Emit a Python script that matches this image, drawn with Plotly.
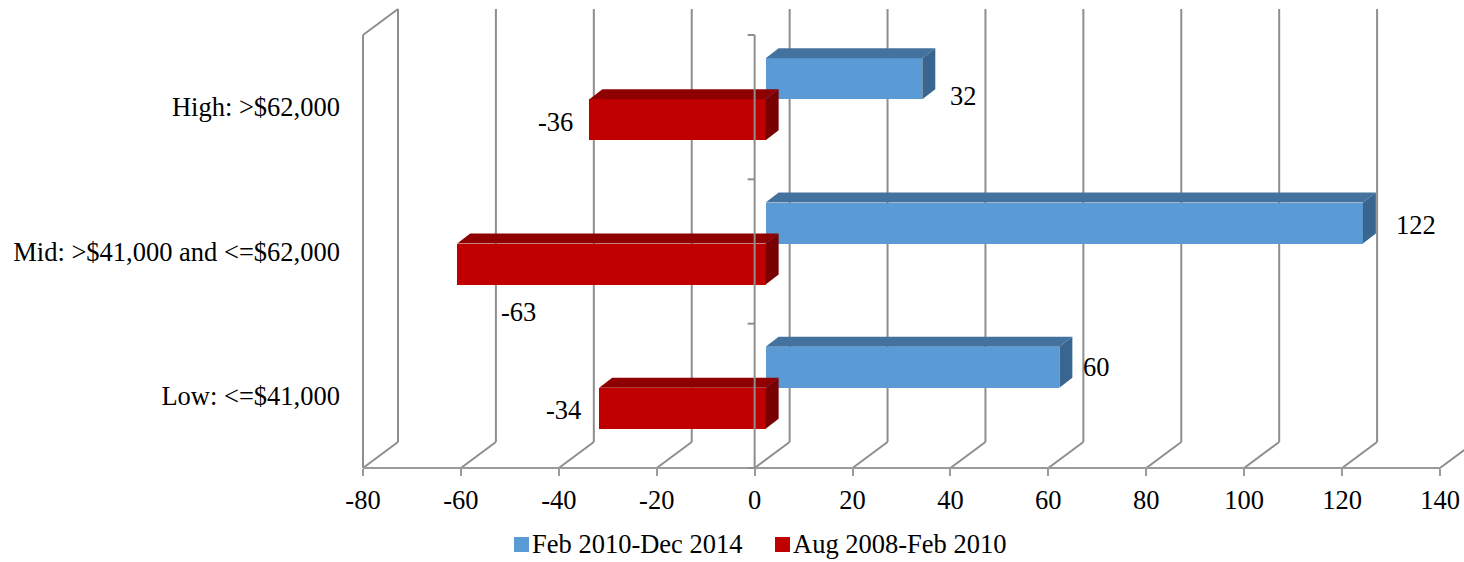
import plotly.graph_objects as go

# ---- data -----------------------------------------------------------------
categories = ["Low: <=$41,000", "Mid: >$41,000 and <=$62,000", "High: >$62,000"]
series_names = ["Feb 2010-Dec 2014", "Aug 2008-Feb 2010"]
recovery = [60, 122, 32]       # Feb 2010-Dec 2014
recession = [-34, -63, -36]    # Aug 2008-Feb 2010
x_tickvals = [-80, -60, -40, -20, 0, 20, 40, 60, 80, 100, 120, 140]
x_ticktext = ["-80", "-60", "-40", "-20", "0", "20", "40", "60", "80", "100", "120", "140"]

# ---- geometry of the pseudo-3D box (pixel sizes turned into axis units) ----
W, H = 1464, 562
PX_X = 1077 / 220.0          # pixels per x unit on the front plane
PX_Y = 433 / 3.0             # pixels per category band
ML, MR, MT, MB = 355, 0, 8, 90
X_RANGE = [-80 - 8 / PX_X, -80 + (W - 363) / PX_X]
Y_RANGE = [-4 / PX_Y, 3 + 27 / PX_Y]
PLOT_H = H - MT - MB

BACK_DX = 35 / PX_X          # depth of the walls
BACK_DY = 26 / PX_Y
BAR_DX = 11 / PX_X           # bars sit a little behind the front plane
BAR_LIFT = 8 / PX_Y
BAR_T = 41 / PX_Y            # bar thickness
FACE_DX = 13 / PX_X          # bar depth
FACE_DY = 10 / PX_Y

BLUE, BLUE_TOP, BLUE_SIDE = "#5B9BD5", "#44729F", "#386690"
RED, RED_TOP, RED_SIDE = "#C00000", "#8F0000", "#790000"
GRID = "#8E8E8E"
FONT = "Liberation Serif, Times New Roman, serif"
FS = 26.5

centers = [i + 0.5 for i in range(len(categories))]
x_min, x_max = x_tickvals[0], x_tickvals[-1]
n_cat = len(categories)

fig = go.Figure()
shapes = []


def line(x0, y0, x1, y1, layer="below", width=2, color=GRID):
    shapes.append(dict(type="line", xref="x", yref="y", x0=x0, y0=y0, x1=x1, y1=y1,
                       line=dict(color=color, width=width), layer=layer))


def poly(pts, color, layer="above"):
    path = "M " + " L ".join(f"{px},{py}" for px, py in pts) + " Z"
    shapes.append(dict(type="path", xref="x", yref="y", path=path,
                       fillcolor=color, line=dict(width=0), layer=layer))


# back wall gridlines and floor diagonals
for v in x_tickvals:
    line(v + BACK_DX, BACK_DY, v + BACK_DX, n_cat + BACK_DY)
    line(v, 0, v + BACK_DX, BACK_DY)
# left wall
line(x_min, 0, x_min, n_cat)
line(x_min, n_cat, x_min + BACK_DX, n_cat + BACK_DY)
# front value axis line
line(x_min, 0, x_max, 0, color="#9A9A9A")

# ---- bars: front faces as bar traces ---------------------------------------
blue_y = [c + BAR_LIFT + BAR_T / 2 for c in centers]
red_y = [c + BAR_LIFT - BAR_T / 2 for c in centers]

fig.add_trace(go.Bar(orientation="h", y=blue_y, x=recovery, base=BAR_DX, width=BAR_T,
                     marker=dict(color=BLUE, line=dict(width=0)), name=series_names[0],
                     showlegend=False))
fig.add_trace(go.Bar(orientation="h", y=red_y, x=recession, base=BAR_DX, width=BAR_T,
                     marker=dict(color=RED, line=dict(width=0)), name=series_names[1],
                     showlegend=False))


def box_faces(values, ys, top_col, side_col):
    for v, yc in zip(values, ys):
        xa, xb = sorted([BAR_DX, BAR_DX + v])
        yb, yt = yc - BAR_T / 2, yc + BAR_T / 2
        poly([(xa, yt), (xb, yt), (xb + FACE_DX, yt + FACE_DY), (xa + FACE_DX, yt + FACE_DY)], top_col)
        poly([(xb, yb), (xb, yt), (xb + FACE_DX, yt + FACE_DY), (xb + FACE_DX, yb + FACE_DY)], side_col)


box_faces(recovery, blue_y, BLUE_TOP, BLUE_SIDE)
box_faces(recession, red_y, RED_TOP, RED_SIDE)

# category axis at zero, drawn over the bars
line(0, 0, 0, n_cat, layer="above")
for k in range(n_cat + 1):
    line(-7 / PX_X, k, 0, k, layer="above")

# ---- data labels -------------------------------------------------------------
label_shift_blue = [(37, 0), (53, -2), (41, -17)]
label_shift_red = [(-36, -2), (61, -48), (-34, -2)]
annotations = []
for vals, ys, shifts in ((recovery, blue_y, label_shift_blue), (recession, red_y, label_shift_red)):
    for v, yc, (dx, dy) in zip(vals, ys, shifts):
        annotations.append(dict(x=BAR_DX + v, y=yc, xref="x", yref="y", text=str(v),
                                showarrow=False, xanchor="center", yanchor="middle",
                                xshift=dx, yshift=dy,
                                font=dict(family=FONT, size=FS, color="#000000")))

# ---- legend along the bottom edge ------------------------------------------------
def px_to_paper_x(px):
    return (px - ML) / (W - ML - MR)


def px_to_paper_y(py):
    return (H - MB - py) / PLOT_H


LEG_MID = 544
legend_items = [(series_names[0], BLUE, 514), (series_names[1], RED, 775)]
for name, col, left in legend_items:
    shapes.append(dict(type="rect", xref="paper", yref="paper",
                       x0=px_to_paper_x(left), x1=px_to_paper_x(left + 15),
                       y0=px_to_paper_y(LEG_MID + 8), y1=px_to_paper_y(LEG_MID - 7),
                       fillcolor=col, line=dict(width=0), layer="above"))
    annotations.append(dict(x=px_to_paper_x(left + 17), y=px_to_paper_y(LEG_MID),
                            xref="paper", yref="paper", text=name, showarrow=False,
                            xanchor="left", yanchor="middle", borderpad=0,
                            font=dict(family=FONT, size=FS, color="#000000")))

fig.update_layout(
    width=W, height=H,
    margin=dict(l=ML, r=MR, t=MT, b=MB, autoexpand=False),
    paper_bgcolor="white", plot_bgcolor="white",
    font=dict(family=FONT, size=FS, color="#000000"),
    barmode="overlay",
    bargap=0,
    shapes=shapes,
    annotations=annotations,
    showlegend=False,
    hovermode=False,
    xaxis=dict(range=X_RANGE, tickvals=x_tickvals, ticktext=x_ticktext,
               showgrid=False, zeroline=False, showline=False,
               ticks="outside", ticklen=7, tickwidth=1.5, tickcolor="#9A9A9A",
               anchor="free", position=4 / PLOT_H, ticklabelstandoff=1,
               tickfont=dict(family=FONT, size=FS, color="#000000"), fixedrange=True),
    yaxis=dict(range=Y_RANGE, tickvals=centers, ticktext=categories,
               showgrid=False, zeroline=False, showline=False, ticks="",
               ticklabelstandoff=14,
               tickfont=dict(family=FONT, size=FS, color="#000000"), fixedrange=True),
)

fig.write_html("out.html")
